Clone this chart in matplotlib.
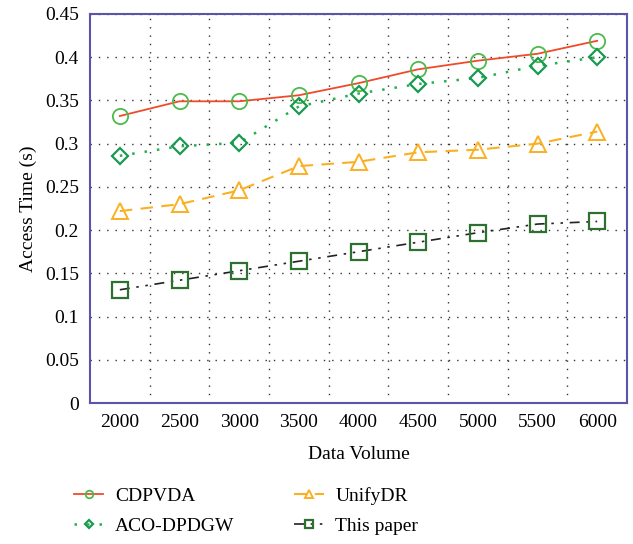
import matplotlib
matplotlib.use("Agg")
import matplotlib.pyplot as plt
import numpy as np

categories = ["2000", "2500", "3000", "3500", "4000", "4500", "5000", "5500", "6000"]
cdpvda = [0.332, 0.349, 0.349, 0.356, 0.370, 0.386, 0.396, 0.404, 0.419]
aco_dpdgw = [0.286, 0.297, 0.301, 0.343, 0.358, 0.369, 0.376, 0.390, 0.400]
unifydr = [0.222, 0.230, 0.246, 0.274, 0.279, 0.290, 0.293, 0.300, 0.314]
this_paper = [0.131, 0.142, 0.153, 0.164, 0.175, 0.186, 0.197, 0.207, 0.210]
yticks = [0, 0.05, 0.1, 0.15, 0.2, 0.25, 0.3, 0.35, 0.4, 0.45]
ytick_labels = ["0", "0.05", "0.1", "0.15", "0.2", "0.25", "0.3", "0.35", "0.4", "0.45"]

plt.rcParams['font.family'] = ['Liberation Serif', 'DejaVu Serif']
plt.rcParams['font.size'] = 14

fig = plt.figure(figsize=(6.33, 5.44), dpi=100)
ax = fig.add_axes([90/633, 1 - 403/544, (627-90)/633, (403-14)/544])

x = np.arange(len(categories))

ax.plot(x, cdpvda, color='#f04a2a', lw=1.3, ls='-', marker='o', ms=11,
        mfc='none', mec='#4cbb4c', mew=1.3, label='CDPVDA', zorder=3)
ax.plot(x, aco_dpdgw, color='#22b14c', lw=1.8, ls=(0, (1, 4)), marker='D', ms=8,
        mfc='none', mec='#1a9a50', mew=1.6, label='ACO-DPDGW', zorder=3)
ax.plot(x, unifydr, color='#fbb022', lw=1.5, ls=(0, (6, 4)), marker='^', ms=12,
        mfc='none', mec='#fbb022', mew=1.4, label='UnifyDR', zorder=3)
ax.plot(x, this_paper, color='#222222', lw=1.2, ls=(0, (6, 4, 1.5, 4, 1.5, 4)), marker='s', ms=11,
        mfc='none', mec='#2e7030', mew=1.6, label='This paper', zorder=3)

ax.set_xlim(-0.5, len(categories) - 0.5)
ax.set_ylim(0, 0.45)
ax.set_xticks(x)
ax.set_xticklabels(categories)
ax.set_yticks(yticks)
ax.set_yticklabels(ytick_labels)
ax.set_xticks(x[:-1] + 0.5, minor=True)
ax.tick_params(axis='both', which='both', length=0, pad=8, labelsize=14)

ax.grid(True, which='minor', axis='x', color='#333333', ls=(0, (1, 5)), lw=1.0)
ax.grid(True, which='major', axis='y', color='#333333', ls=(0, (1, 5)), lw=1.0)
ax.set_axisbelow(True)

for s in ax.spines.values():
    s.set_color('#5a55a8')
    s.set_linewidth(1.5)

ax.set_xlabel('Data Volume', fontsize=14, labelpad=11)
ax.set_ylabel('Access Time (s)', fontsize=14, labelpad=6)

handles, labels = ax.get_legend_handles_labels()
leg = fig.legend(handles, labels,
                 loc='center left', bbox_to_anchor=(74/633, 1 - 511/544), ncol=2,
                 frameon=False, fontsize=14, markerscale=0.5, handlelength=1.5,
                 columnspacing=3.1, handletextpad=0.6, labelspacing=0.6,
                 borderpad=0, borderaxespad=0)

fig.savefig('out.png', dpi=100)
